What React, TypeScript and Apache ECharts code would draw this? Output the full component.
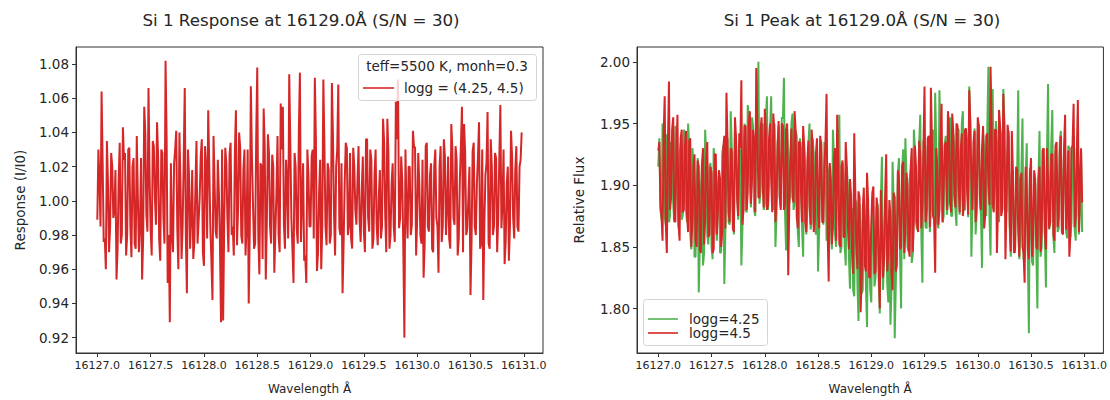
import React, { useEffect, useRef } from "react";
import * as echarts from "echarts";

// Wavelength grid: samples every 0.01 Å from 16127.00; "A" arrays hold the samples at
// 16127.00, 16127.02, ... and "B" arrays the samples at 16127.01, 16127.03, ...
const START_WAVELENGTH = 16127.0;
const STEP = 0.01;

const xTicks = [16127.0, 16127.5, 16128.0, 16128.5, 16129.0, 16129.5, 16130.0, 16130.5, 16131.0];
const leftYTicks = [0.92, 0.94, 0.96, 0.98, 1.0, 1.02, 1.04, 1.06, 1.08];
const rightYTicks = [1.8, 1.85, 1.9, 1.95, 2.0];

const responseA = [
  0.989, 1.012, 1.064, 0.976, 0.960, 1.010, 0.985, 1.020, 0.994, 0.954,
  1.012, 0.975, 1.043, 1.028, 0.980, 1.031, 0.967, 1.025, 0.972, 1.003,
  0.985, 0.954, 1.055, 0.992, 1.066, 0.983, 1.035, 1.002, 1.046, 0.978,
  1.030, 0.990, 1.082, 0.952, 0.929, 0.980, 1.022, 1.041, 0.960, 1.010,
  0.985, 1.066, 0.946, 1.015, 0.990, 0.966, 1.008, 0.975, 1.002, 1.036,
  0.962, 1.020, 1.053, 0.985, 0.942, 1.010, 0.978, 1.005, 0.929, 0.930,
  1.031, 0.990, 1.027, 0.980, 0.968, 1.053, 0.995, 1.031, 0.975, 1.030,
  0.985, 0.940, 1.067, 0.998, 0.975, 1.078, 0.957, 1.020, 1.054, 0.954,
  1.039, 0.985, 1.027, 0.958, 1.005, 0.980, 1.057, 1.055, 0.972, 1.012,
  1.074, 0.990, 0.952, 1.020, 0.975, 1.075, 1.000, 0.965, 0.952, 1.015,
  0.985, 1.030, 1.072, 0.959, 1.005, 0.960, 1.071, 0.985, 1.022, 0.975,
  1.069, 0.992, 1.020, 1.068, 0.980, 0.946, 1.010, 1.031, 0.985, 0.978,
  1.031, 0.995, 1.012, 0.988, 1.005, 0.982, 1.036, 0.990, 1.030, 0.972,
  1.015, 0.985, 1.002, 0.978, 1.048, 0.992, 1.048, 0.972, 1.010, 0.985,
  1.058, 1.071, 0.990, 1.012, 0.920, 0.995, 1.020, 0.980, 1.041, 1.031,
  0.990, 1.010, 0.975, 0.955, 1.032, 0.985, 1.015, 0.972, 1.020, 0.990,
  0.958, 1.032, 0.985, 1.026, 0.995, 0.978, 1.045, 0.990, 1.032, 0.968,
  1.012, 1.055, 1.045, 0.980, 1.002, 0.945, 1.029, 0.985, 1.010, 1.046,
  0.975, 0.942, 1.015, 1.052, 0.972, 1.020, 0.985, 1.025, 0.990, 1.056,
  0.998, 0.963, 1.010, 0.965, 1.041, 0.990, 1.018, 0.985, 1.020, 1.040,
];

const responseB = [
  1.030, 0.985, 1.022, 0.978, 1.035, 0.970, 1.028, 0.990, 1.018, 0.972,
  1.034, 0.980, 1.024, 0.968, 1.030, 0.985, 1.020, 0.975, 1.038, 0.970,
  1.025, 0.978, 1.040, 0.982, 1.015, 0.968, 1.032, 0.986, 1.026, 0.965,
  1.028, 0.975, 1.036, 0.980, 1.022, 0.970, 1.030, 0.984, 1.040, 0.966,
  1.024, 0.980, 1.030, 0.972, 1.018, 0.976, 1.035, 0.988, 1.026, 0.970,
  1.032, 0.978, 1.020, 0.965, 1.038, 0.982, 1.024, 0.975, 1.030, 0.986,
  1.022, 0.970, 1.034, 0.985, 1.028, 0.974, 1.040, 0.980, 1.018, 0.968,
  1.030, 0.984, 1.026, 0.972, 1.036, 0.978, 1.022, 0.966, 1.032, 0.988,
  1.028, 0.975, 1.020, 0.982, 1.038, 0.970, 1.030, 0.986, 1.024, 0.978,
  1.034, 0.972, 1.028, 0.984, 1.040, 0.976, 1.022, 0.968, 1.030, 0.985,
  1.026, 0.978, 1.036, 0.970, 1.024, 0.986, 1.032, 0.974, 1.018, 0.980,
  1.038, 0.968, 1.030, 0.984, 1.022, 0.975, 1.034, 0.980, 1.028, 0.972,
  1.020, 0.986, 1.032, 0.976, 1.026, 0.970, 1.036, 0.982, 1.024, 0.978,
  1.030, 0.974, 1.018, 0.985, 1.034, 0.970, 1.028, 0.980, 1.022, 0.976,
  1.036, 0.984, 1.026, 0.972, 1.030, 0.978, 1.020, 0.986, 1.032, 0.968,
  1.028, 0.980, 1.024, 0.974, 1.034, 0.982, 1.022, 0.970, 1.030, 0.985,
  1.020, 0.976, 1.036, 0.980, 1.026, 0.972, 1.030, 0.986, 1.024, 0.978,
  1.032, 0.970, 1.028, 0.984, 1.020, 0.976, 1.034, 0.980, 1.026, 0.972,
  1.030, 0.986, 1.022, 0.975, 1.036, 0.980, 1.028, 0.970, 1.024, 0.984,
  1.030, 0.976, 1.020, 0.985, 1.026, 0.978, 1.032, 0.982, 1.024,
];

const flux450A = [
  1.928, 1.885, 1.855, 1.972, 1.845, 1.984, 1.890, 1.955, 1.870, 1.957,
  1.855, 1.945, 1.880, 1.944, 1.862, 1.938, 1.870, 1.925, 1.850, 1.915,
  1.845, 1.930, 1.872, 1.935, 1.860, 1.910, 1.848, 1.925, 1.880, 1.905,
  1.862, 1.940, 1.975, 1.878, 1.930, 1.865, 1.955, 1.890, 1.942, 1.985,
  1.880, 1.948, 1.895, 1.960, 1.905, 1.935, 1.995, 1.890, 1.945, 1.900,
  1.962, 1.880, 1.938, 1.905, 1.958, 1.870, 1.930, 1.892, 1.950, 1.880,
  1.945, 1.827, 1.925, 1.890, 1.960, 1.875, 1.935, 1.895, 1.948, 1.870,
  1.920, 1.885, 1.945, 1.862, 1.925, 1.880, 1.940, 1.870, 1.915, 1.974,
  1.822, 1.905, 1.865, 1.930, 1.957, 1.852, 1.915, 1.858, 1.935, 1.868,
  1.905, 1.845, 1.942, 1.850, 1.895, 1.797, 1.880, 1.835, 1.910, 1.825,
  1.870, 1.899, 1.830, 1.880, 1.800, 1.865, 1.840, 1.925, 1.845, 1.875,
  1.815, 1.890, 1.835, 1.905, 1.850, 1.919, 1.860, 1.900, 1.842, 1.930,
  1.870, 1.915, 1.862, 1.925, 1.885, 1.980, 1.880, 1.940, 1.979, 1.875,
  1.829, 1.915, 1.880, 1.966, 1.900, 1.935, 1.960, 1.885, 1.958, 1.892,
  1.950, 1.900, 1.928, 1.875, 1.945, 1.895, 1.977, 1.905, 1.935, 1.870,
  1.955, 1.890, 1.930, 1.865, 1.940, 1.900, 1.996, 1.885, 1.945, 1.845,
  1.961, 1.875, 1.974, 1.840, 1.949, 1.870, 1.944, 1.845, 1.915, 1.862,
  1.905, 1.850, 1.821, 1.895, 1.840, 1.922, 1.858, 1.900, 1.848, 1.915,
  1.862, 1.930, 1.848, 1.905, 1.870, 1.925, 1.855, 1.935, 1.875, 1.940,
  1.860, 1.957, 1.880, 1.842, 1.930, 1.966, 1.875, 1.969, 1.900, 1.886,
];

const flux450B = [
  1.935, 1.875, 1.940, 1.870, 1.930, 1.880, 1.945, 1.872, 1.928, 1.868,
  1.938, 1.878, 1.932, 1.875, 1.936, 1.850, 1.915, 1.855, 1.920, 1.848,
  1.918, 1.852, 1.922, 1.858, 1.915, 1.845, 1.925, 1.860, 1.912, 1.850,
  1.930, 1.865, 1.935, 1.870, 1.928, 1.862, 1.938, 1.875, 1.930, 1.868,
  1.948, 1.880, 1.952, 1.885, 1.945, 1.878, 1.950, 1.890, 1.955, 1.882,
  1.946, 1.884, 1.950, 1.878, 1.944, 1.888, 1.952, 1.880, 1.948, 1.885,
  1.950, 1.882, 1.946, 1.886, 1.944, 1.865, 1.935, 1.870, 1.932, 1.862,
  1.936, 1.868, 1.930, 1.872, 1.938, 1.865, 1.932, 1.870, 1.935, 1.862,
  1.918, 1.852, 1.922, 1.855, 1.915, 1.850, 1.920, 1.858, 1.916, 1.848,
  1.892, 1.828, 1.895, 1.832, 1.890, 1.825, 1.898, 1.830, 1.888, 1.826,
  1.894, 1.828, 1.890, 1.832, 1.896, 1.825, 1.892, 1.830, 1.888, 1.828,
  1.894, 1.830, 1.912, 1.848, 1.915, 1.845, 1.910, 1.850, 1.914, 1.846,
  1.932, 1.868, 1.936, 1.865, 1.930, 1.870, 1.938, 1.866, 1.934, 1.872,
  1.930, 1.868, 1.936, 1.870, 1.932, 1.880, 1.946, 1.878, 1.944, 1.882,
  1.948, 1.878, 1.942, 1.884, 1.946, 1.876, 1.950, 1.880, 1.944, 1.885,
  1.946, 1.880, 1.948, 1.876, 1.942, 1.884, 1.950, 1.878, 1.945, 1.882,
  1.948, 1.880, 1.944, 1.885, 1.940, 1.846, 1.910, 1.848, 1.912, 1.842,
  1.910, 1.845, 1.915, 1.848, 1.908, 1.842, 1.912, 1.850, 1.906, 1.846,
  1.928, 1.862, 1.930, 1.865, 1.925, 1.860, 1.932, 1.866, 1.926, 1.862,
  1.930, 1.864, 1.928, 1.860, 1.932, 1.866, 1.926, 1.862, 1.930,
];

const flux425A = [
  1.915, 1.880, 1.950, 1.875, 1.940, 1.870, 1.935, 1.885, 1.948, 1.890,
  1.925, 1.872, 1.945, 1.880, 1.950, 1.860, 1.930, 1.842, 1.900, 1.813,
  1.895, 1.835, 1.945, 1.860, 1.915, 1.850, 1.930, 1.868, 1.900, 1.845,
  1.925, 1.820, 1.915, 1.870, 1.960, 1.880, 1.945, 1.895, 1.930, 1.835,
  1.925, 1.880, 1.965, 1.900, 1.955, 1.880, 1.940, 2.000, 1.895, 1.950,
  1.885, 1.972, 1.900, 1.972, 1.880, 1.850, 1.935, 1.890, 1.955, 1.987,
  1.847, 1.925, 1.895, 1.958, 1.885, 1.940, 1.850, 1.930, 1.842, 1.915,
  1.880, 1.950, 1.870, 1.925, 1.860, 1.830, 1.915, 1.875, 1.935, 1.855,
  1.910, 1.868, 1.945, 1.860, 1.920, 1.957, 1.850, 1.905, 1.835, 1.900,
  1.816, 1.880, 1.810, 1.885, 1.790, 1.860, 1.815, 1.875, 1.785, 1.850,
  1.805, 1.870, 1.825, 1.885, 1.796, 1.923, 1.840, 1.870, 1.805, 1.787,
  1.919, 1.776, 1.860, 1.922, 1.800, 1.929, 1.938, 1.850, 1.905, 1.837,
  1.945, 1.870, 1.900, 1.957, 1.821, 1.915, 1.865, 1.930, 1.880, 1.945,
  1.975, 1.870, 1.977, 1.890, 1.875, 1.940, 1.885, 1.955, 1.875, 1.930,
  1.867, 1.945, 1.895, 1.960, 1.880, 1.935, 1.980, 1.842, 1.920, 1.860,
  1.945, 1.885, 1.833, 1.930, 1.875, 1.996, 1.843, 1.978, 1.900, 1.935,
  1.870, 1.940, 1.978, 1.880, 1.925, 1.865, 1.910, 1.850, 1.895, 1.977,
  1.860, 1.954, 1.840, 1.934, 1.780, 1.880, 1.835, 1.905, 1.800, 1.944,
  1.850, 1.900, 1.817, 1.982, 1.870, 1.961, 1.845, 1.915, 1.865, 1.944,
  1.880, 1.925, 1.857, 1.930, 1.870, 1.940, 1.855, 1.920, 1.880, 1.862,
];

const flux425B = [
  1.938, 1.872, 1.935, 1.868, 1.942, 1.875, 1.930, 1.870, 1.940, 1.866,
  1.934, 1.876, 1.940, 1.870, 1.932, 1.848, 1.918, 1.842, 1.922, 1.850,
  1.915, 1.845, 1.925, 1.852, 1.918, 1.840, 1.920, 1.855, 1.912, 1.846,
  1.932, 1.862, 1.938, 1.868, 1.930, 1.860, 1.936, 1.872, 1.928, 1.865,
  1.950, 1.878, 1.955, 1.882, 1.948, 1.875, 1.952, 1.885, 1.946, 1.880,
  1.952, 1.880, 1.946, 1.884, 1.950, 1.876, 1.948, 1.882, 1.954, 1.878,
  1.946, 1.885, 1.950, 1.880, 1.944, 1.862, 1.938, 1.866, 1.930, 1.860,
  1.934, 1.864, 1.938, 1.870, 1.932, 1.860, 1.936, 1.868, 1.930, 1.864,
  1.916, 1.848, 1.920, 1.850, 1.912, 1.845, 1.918, 1.852, 1.915, 1.842,
  1.882, 1.815, 1.888, 1.820, 1.885, 1.812, 1.890, 1.818, 1.880, 1.815,
  1.886, 1.818, 1.882, 1.822, 1.888, 1.815, 1.884, 1.820, 1.880, 1.816,
  1.886, 1.818, 1.910, 1.842, 1.914, 1.840, 1.908, 1.846, 1.912, 1.844,
  1.930, 1.864, 1.934, 1.860, 1.936, 1.866, 1.932, 1.862, 1.938, 1.868,
  1.932, 1.865, 1.938, 1.870, 1.934, 1.876, 1.948, 1.875, 1.942, 1.880,
  1.946, 1.876, 1.950, 1.880, 1.944, 1.874, 1.948, 1.882, 1.946, 1.878,
  1.950, 1.876, 1.944, 1.882, 1.948, 1.874, 1.946, 1.880, 1.952, 1.878,
  1.946, 1.882, 1.950, 1.878, 1.944, 1.842, 1.912, 1.845, 1.908, 1.840,
  1.912, 1.840, 1.908, 1.845, 1.914, 1.838, 1.910, 1.846, 1.906, 1.842,
  1.930, 1.860, 1.926, 1.864, 1.932, 1.858, 1.928, 1.862, 1.934, 1.865,
  1.928, 1.862, 1.932, 1.858, 1.926, 1.864, 1.930, 1.860, 1.928,
];

const RED = "#d62728";
const GREEN = "#50b24e";
const FONT = "DejaVu Sans";
const TEXT = "#262626";

// Merge the two interleaved sample sets into [wavelength, value] pairs.
function toPairs(a: number[], b: number[]) {
  const out: number[][] = [];
  for (let i = 0; i < a.length; i++) {
    out.push([+(START_WAVELENGTH + 2 * i * STEP).toFixed(2), a[i]]);
    if (i < b.length) out.push([+(START_WAVELENGTH + (2 * i + 1) * STEP).toFixed(2), b[i]]);
  }
  return out;
}

function xAxisFor(gridIndex: number) {
  return {
    type: "value",
    gridIndex,
    min: 16126.8,
    max: 16131.18,
    name: "Wavelength Å",
    nameLocation: "middle",
    nameGap: 30,
    nameTextStyle: { fontFamily: FONT, fontSize: 12, color: TEXT },
    axisLine: { show: true, onZero: false, lineStyle: { color: "#333", width: 1 } },
    axisTick: { show: true, length: 4, customValues: xTicks, lineStyle: { color: "#333" } },
    axisLabel: {
      customValues: xTicks,
      margin: 7,
      fontFamily: FONT,
      fontSize: 11,
      color: TEXT,
      formatter: (v: number) => v.toFixed(1),
    },
    splitLine: { show: false },
  };
}

function yAxisFor(gridIndex: number, min: number, max: number, ticks: number[], name: string, gap: number) {
  return {
    type: "value",
    gridIndex,
    min,
    max,
    name,
    nameLocation: "middle",
    nameGap: gap,
    nameTextStyle: { fontFamily: FONT, fontSize: 13.5, color: TEXT },
    axisLine: { show: true, lineStyle: { color: "#333", width: 1 } },
    axisTick: { show: true, length: 4, customValues: ticks, lineStyle: { color: "#333" } },
    axisLabel: {
      customValues: ticks,
      margin: 7,
      fontFamily: FONT,
      fontSize: 13.5,
      color: TEXT,
      formatter: (v: number) => v.toFixed(2),
    },
    splitLine: { show: false },
  };
}

const legendText = (text: string, x: number, y: number, align = "left") => ({
  type: "text",
  z: 101,
  style: { text, x, y, textAlign: align, textVerticalAlign: "middle", fontFamily: FONT, fontSize: 13.5, fill: TEXT },
});

export default function App() {
  const ref = useRef<HTMLDivElement>(null);

  useEffect(() => {
    document.body.style.margin = "0";
    if (!ref.current) return;
    const chart = echarts.init(ref.current, undefined, { renderer: "svg" });
    const option: any = {
      animation: false,
      backgroundColor: "#ffffff",
      grid: [
        { left: 76, top: 47, width: 467, height: 306, show: true, borderColor: "#333", borderWidth: 1, backgroundColor: "transparent" },
        { left: 637, top: 47, width: 468, height: 306, show: true, borderColor: "#333", borderWidth: 1, backgroundColor: "transparent" },
      ],
      xAxis: [xAxisFor(0), xAxisFor(1)],
      yAxis: [
        yAxisFor(0, 0.911, 1.09, leftYTicks, "Response (I/I0)", 49),
        yAxisFor(1, 1.764, 2.012, rightYTicks, "Relative Flux", 51),
      ],
      series: [
        {
          name: "logg = (4.25, 4.5)",
          type: "line",
          xAxisIndex: 0,
          yAxisIndex: 0,
          data: toPairs(responseA, responseB),
          showSymbol: false,
          lineStyle: { color: RED, width: 2 },
          itemStyle: { color: RED },
        },
        {
          name: "logg=4.25",
          type: "line",
          xAxisIndex: 1,
          yAxisIndex: 1,
          data: toPairs(flux425A, flux425B),
          showSymbol: false,
          lineStyle: { color: GREEN, width: 2 },
          itemStyle: { color: GREEN },
        },
        {
          name: "logg=4.5",
          type: "line",
          xAxisIndex: 1,
          yAxisIndex: 1,
          data: toPairs(flux450A, flux450B),
          showSymbol: false,
          lineStyle: { color: RED, width: 2 },
          itemStyle: { color: RED },
        },
      ],
      graphic: [
        {
          type: "text",
          style: { text: "Si 1 Response at 16129.0Å (S/N = 30)", x: 301, y: 20, textAlign: "center", textVerticalAlign: "middle", fontFamily: FONT, fontSize: 16.7, fill: TEXT },
        },
        {
          type: "text",
          style: { text: "Si 1 Peak at 16129.0Å (S/N = 30)", x: 862, y: 20, textAlign: "center", textVerticalAlign: "middle", fontFamily: FONT, fontSize: 16.7, fill: TEXT },
        },
        // left legend
        {
          type: "rect",
          z: 100,
          shape: { x: 358.5, y: 54.5, width: 178, height: 46, r: 3 },
          style: { fill: "rgba(255,255,255,0.8)", stroke: "#d4d4d4", lineWidth: 1 },
        },
        legendText("teff=5500 K, monh=0.3", 447, 66, "center"),
        {
          type: "line",
          z: 101,
          shape: { x1: 363, y1: 88, x2: 394, y2: 88 },
          style: { stroke: RED, lineWidth: 2, opacity: 0.8 },
        },
        legendText("logg = (4.25, 4.5)", 404, 88),
        // right legend
        {
          type: "rect",
          z: 100,
          shape: { x: 643.5, y: 299.5, width: 124, height: 46, r: 3 },
          style: { fill: "rgba(255,255,255,0.8)", stroke: "#d4d4d4", lineWidth: 1 },
        },
        {
          type: "line",
          z: 101,
          shape: { x1: 648, y1: 319, x2: 678, y2: 319 },
          style: { stroke: GREEN, lineWidth: 2, opacity: 0.8 },
        },
        legendText("logg=4.25", 689, 319),
        {
          type: "line",
          z: 101,
          shape: { x1: 648, y1: 333, x2: 678, y2: 333 },
          style: { stroke: RED, lineWidth: 2, opacity: 0.8 },
        },
        legendText("logg=4.5", 689, 333),
      ],
    };
    chart.setOption(option);
    return () => {
      chart.dispose();
    };
  }, []);

  return <div ref={ref} style={{ width: 1110, height: 400 }} />;
}
